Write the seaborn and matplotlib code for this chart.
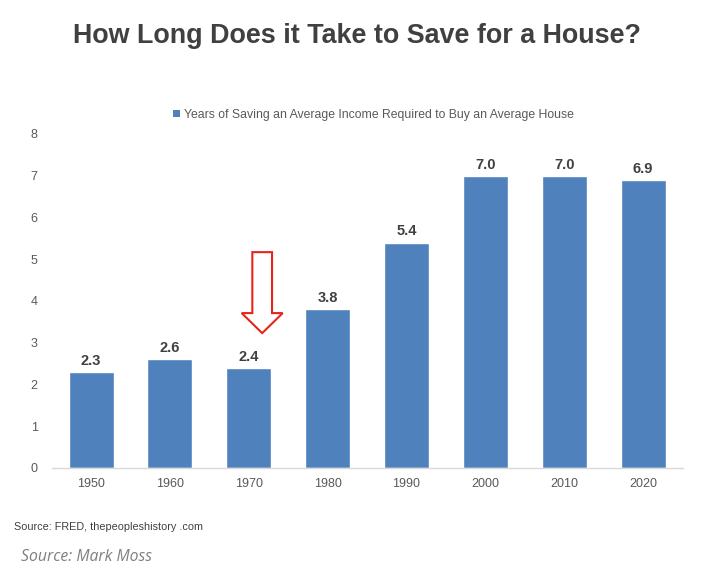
import matplotlib
matplotlib.use("Agg")
import matplotlib.pyplot as plt
import seaborn as sns
import pandas as pd
from matplotlib.patches import FancyArrow, Patch

decades = ["1950", "1960", "1970", "1980", "1990", "2000", "2010", "2020"]
years_saving = [2.3, 2.6, 2.4, 3.8, 5.4, 7.0, 7.0, 6.9]
y_ticks = [0, 1, 2, 3, 4, 5, 6, 7, 8]

BAR_BLUE = "#4f81bd"
DARK = "#404040"
GRAY = "#595959"

sns.set_theme(style="white")
plt.rcParams["font.family"] = ["Liberation Sans", "DejaVu Sans"]

df = pd.DataFrame({"decade": decades, "years": years_saving})

fig = plt.figure(figsize=(7.18, 5.81), dpi=100)
ax = fig.add_axes([0.0719, 0.1945, 0.8787, 0.5749])

sns.barplot(data=df, x="decade", y="years", color=BAR_BLUE, saturation=1,
            width=0.57, ax=ax)

for i, v in enumerate(years_saving):
    ax.text(i, v + 0.1, f"{v:.1f}", ha="center", va="bottom",
            fontsize=10.5, fontweight="bold", color=DARK)

ax.set_ylim(0, 8)
ax.set_xlim(-0.5, len(decades) - 0.5)
ax.set_yticks(y_ticks)
ax.set_xlabel("")
ax.set_ylabel("")
ax.tick_params(axis="both", length=0, labelsize=9, labelcolor=GRAY)
ax.tick_params(axis="y", pad=10)
ax.tick_params(axis="x", pad=7)
for s in ["top", "right", "left"]:
    ax.spines[s].set_visible(False)
ax.spines["bottom"].set_color("#d9d9d9")
ax.spines["bottom"].set_linewidth(1)

# red outlined arrow pointing at the 1970 bar
arrow = FancyArrow(2.17, 5.17, 0, -1.94, width=0.25, head_width=0.52,
                   head_length=0.48, length_includes_head=True,
                   facecolor="white", edgecolor="#e8231c", linewidth=1.5,
                   zorder=5)
ax.add_patch(arrow)

fig.text(0.497, 0.938, "How Long Does it Take to Save for a House?",
         ha="center", va="center", fontsize=19.4, fontweight="bold", color=DARK)

handle = Patch(facecolor=BAR_BLUE, edgecolor="none")
fig.legend([handle], ["Years of Saving an Average Income Required to Buy an Average House"],
           loc="center", bbox_to_anchor=(0.52, 0.802), frameon=False,
           fontsize=8.8, labelcolor=GRAY, handlelength=0.55, handleheight=0.55,
           handletextpad=0.3)

fig.text(0.019, 0.093, "Source: FRED, thepeopleshistory .com", ha="left",
         va="center", fontsize=7.8, color=DARK)
fig.text(0.029, 0.041, "Source: Mark Moss", ha="left", va="center",
         fontsize=11.3, style="italic", color="#7f7f7f",
         family=["Open Sans", "DejaVu Sans"])

fig.savefig("out.png", dpi=100, facecolor="white")
